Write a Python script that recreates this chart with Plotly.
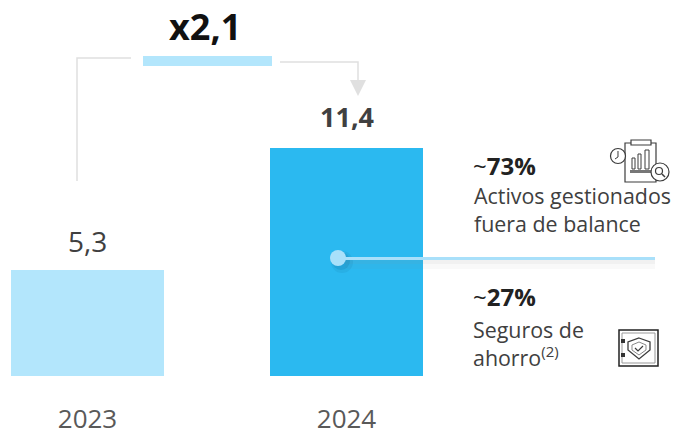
import plotly.graph_objects as go

W, H = 676, 434
BOTTOM = 58
FONT = 'Open Sans'

years = ['2023', '2024']
values = [5.3, 11.4]
value_labels = ['5,3', '<b>11,4</b>']
value_sizes = [28, 27]
value_shifts = [8, 11]
bar_colors = ['#b3e6fc', '#2bb9f0']
multiple = 'x2,1'
share_top = '~<b>73%</b>'
share_bottom = '~<b>27%</b>'
label_top = 'Activos gestionados<br>fuera de balance'
label_bottom = 'Seguros de<br>ahorro<sup>(2)</sup>'


# paper coordinates cover the plot area only, so the bottom margin is taken out
def px(x):
    return x / W


def py(y):
    return 1 - y / (H - BOTTOM)


def path(*points, close=False):
    s = 'M' + ' L'.join(f'{px(x):.5f},{py(y):.5f}' for x, y in points)
    return s + (' Z' if close else '')


def rect(x0, y0, x1, y1, fill=None, line=None, width=1, opacity=1):
    return dict(type='rect', xref='paper', yref='paper', x0=px(x0), x1=px(x1), y0=py(y0), y1=py(y1),
                fillcolor=fill or 'rgba(0,0,0,0)', line=dict(color=line or 'rgba(0,0,0,0)', width=width if line else 0),
                opacity=opacity, layer='above')


def circle(cx, cy, r, fill=None, line=None, width=1, opacity=1):
    return dict(type='circle', xref='paper', yref='paper', x0=px(cx - r), x1=px(cx + r), y0=py(cy + r), y1=py(cy - r),
                fillcolor=fill or 'rgba(0,0,0,0)', line=dict(color=line or 'rgba(0,0,0,0)', width=width if line else 0),
                opacity=opacity, layer='above')


def poly(*points, fill=None, line=None, width=1, close=False):
    return dict(type='path', xref='paper', yref='paper', path=path(*points, close=close),
                fillcolor=fill or 'rgba(0,0,0,0)', line=dict(color=line or 'rgba(0,0,0,0)', width=width if line else 0),
                layer='above')


def text(x, y, s, size, color='#404040', bold=False, anchor='left', yanchor='middle'):
    return dict(xref='paper', yref='paper', x=px(x), y=py(y), text=f'<b>{s}</b>' if bold else s, showarrow=False,
                xanchor=anchor, yanchor=yanchor, align=anchor,
                font=dict(family=FONT, size=size, color=color))


GREY = '#e0e0e0'
ICON = '#3c3c3c'

shapes = [
    # connector between the bars
    poly((77, 181), (77, 58), (131, 58), line=GREY, width=1.5),
    rect(143, 56, 272, 66, fill='#b3e6fc'),
    poly((280, 62), (358, 62), (358, 82), line=GREY, width=1.5),
    poly((350, 80), (366, 80), (358, 96), fill=GREY, close=True),
    # callout line with soft shadow
    rect(345, 260, 655, 264, fill='#8a8a8a', opacity=0.12),
    rect(345, 264, 655, 269, fill='#8a8a8a', opacity=0.05),
    circle(342, 262, 11, fill='#0f5f8a', opacity=0.10),
    circle(341, 261, 9, fill='#0f5f8a', opacity=0.15),
    rect(338, 257, 655, 260, fill='#a9e0fa'),
    circle(338, 258, 8, fill='#a9e0fa'),
    # report icon
    rect(625, 143, 656, 182, line=ICON, width=1.2),
    rect(631, 140, 651, 145, fill='white', line=ICON, width=1.2),
    rect(632, 158, 635, 169, line=ICON, width=1),
    rect(638, 154, 641, 169, line=ICON, width=1),
    rect(645, 150, 649, 169, line=ICON, width=1),
    rect(630, 170, 652, 173, fill='#777777'),
    circle(618, 156, 7.5, fill='white', line=ICON, width=1.2),
    poly((618, 151), (618, 157), (615, 159), line=ICON, width=1),
    circle(660, 172, 9, fill='white', line=ICON, width=1.2),
    circle(659, 171, 3.5, line=ICON, width=1.2),
    poly((662, 174), (665, 177), line=ICON, width=1.5),
    # safe icon
    rect(619, 330, 658, 366, line='#222222', width=1.5),
    rect(622, 333, 655, 363, line='#999999', width=1),
    rect(621, 339, 625, 343, fill='#333333'),
    rect(621, 353, 625, 357, fill='#333333'),
    poly((639, 338), (650, 342), (650, 350), (639, 359), (628, 350), (628, 342), line=ICON, width=1.3, close=True),
    poly((639, 342), (646, 345), (646, 350), (639, 355), (632, 350), (632, 345), line='#888888', width=1, close=True),
    poly((635, 348), (638, 351), (643, 346), line=ICON, width=1.2),
]

annotations = [
    text(205, 27, multiple, 36, color='#111111', bold=True, anchor='center'),
    text(471, 165, share_top, 24, color='#222222'),
    text(472, 209, label_top, 21.4),
    text(471, 296, share_bottom, 24, color='#222222'),
    text(471, 343, label_bottom, 21.4),
]
for i, (value, label, size, shift) in enumerate(zip(values, value_labels, value_sizes, value_shifts)):
    annotations.append(dict(xref='x', yref='y', x=i, y=value, text=label, showarrow=False, yanchor='bottom',
                            yshift=shift, font=dict(family=FONT, size=size, color='#404040')))

fig = go.Figure(
    go.Bar(x=years, y=values, width=153 / 259, marker=dict(color=bar_colors, line=dict(width=0)))
)
fig.update_layout(
    width=W, height=H, margin=dict(l=0, r=0, t=0, b=BOTTOM, autoexpand=False), paper_bgcolor='white',
    plot_bgcolor='white', showlegend=False, shapes=shapes, annotations=annotations, bargap=0,
)
fig.update_xaxes(type='category', range=[-87.5 / 259, (W - 87.5) / 259], showgrid=False, zeroline=False,
                 showline=False, ticks='', ticklabelstandoff=25, automargin=False,
                 tickfont=dict(family=FONT, size=26, color='#595959'))
fig.update_yaxes(range=[0, 18.8], visible=False)
fig.write_html("out.html", config=dict(displayModeBar=False),
               post_script="document.body.style.margin='0';")
